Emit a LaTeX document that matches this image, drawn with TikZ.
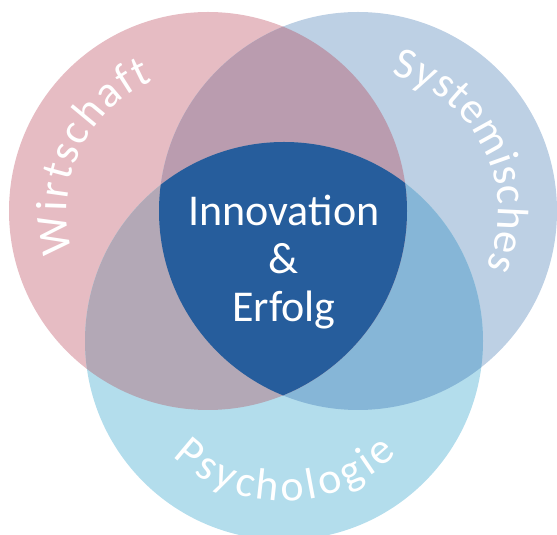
\documentclass[tikz,border=0pt]{standalone}
\usepackage{fontspec}
\setmainfont{Carlito}
\usepackage{xcolor}
\usepackage{tikz}
\usetikzlibrary{decorations.text}

\definecolor{wirtC}{HTML}{E6BCC3}
\definecolor{systC}{HTML}{BDD0E4}
\definecolor{psyC}{HTML}{B3DDEC}
\definecolor{wirtsystC}{HTML}{BA9CAF}
\definecolor{wirtpsyC}{HTML}{B3A8B6}
\definecolor{systpsyC}{HTML}{86B6D7}
\definecolor{kernC}{HTML}{265D9C}

\begin{document}
\begin{tikzpicture}[x=1pt, y=1pt]
        \tikzset{bigtext/.style={font=\fontsize{44}{48}\selectfont, text=white}}
        \tikzset{arclabel/.style={decorate, decoration={text along path,
            text={|\fontsize{44}{48}\selectfont\color{white}|#1}, text align={fit to path}}}}

        \useasboundingbox (0,0) rectangle (557,535);

        \coordinate (wirt) at (208,324);
        \coordinate (syst) at (358,324);
        \coordinate (psy) at (284,194);

        % the three circles
        \fill [wirtC] (wirt) circle (199pt);
        \fill [systC] (syst) circle (199pt);
        \fill [psyC] (psy) circle (199pt);

        % overlaps
        \begin{scope}
            \clip (syst) circle (199pt);
            \fill [systpsyC] (psy) circle (199pt);
        \end{scope}
        \begin{scope}
            \clip (wirt) circle (199pt);
            \fill [wirtsystC] (syst) circle (199pt);
            \fill [wirtpsyC] (psy) circle (199pt);
            \clip (syst) circle (199pt);
            \fill [kernC] (psy) circle (199pt);
        \end{scope}

        \node [bigtext, align=center] (kern) at (284,273) {Innovation\\\&\\Erfolg};

        % labels along the circles
        \path [arclabel=Wirtschaft] (wirt) ++(197:141pt) arc [start angle=197, end angle=113, radius=141pt];
        \path [arclabel=Systemisches] (syst) ++(76:140pt) arc [start angle=76, end angle=-24, radius=140pt];
        \path [arclabel=Psychologie] (psy) ++(226:160pt) arc [start angle=226, end angle=315, radius=160pt];
    \end{tikzpicture}
\end{document}
